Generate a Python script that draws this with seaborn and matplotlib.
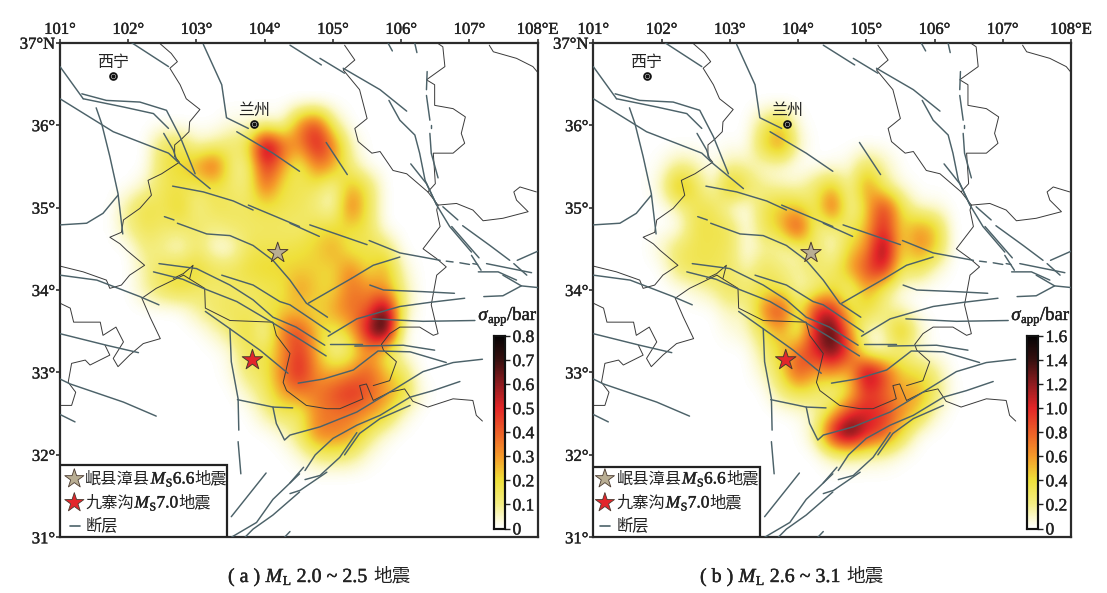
import numpy as np
import matplotlib
matplotlib.use("Agg")
import matplotlib.pyplot as plt
import matplotlib.patheffects as pe
import seaborn as sns
from matplotlib.colors import LinearSegmentedColormap
from matplotlib.patches import Rectangle
from matplotlib.transforms import IdentityTransform

# apparent stress grid
grid_lons = [102, 102.25, 102.5, 102.75, 103, 103.25, 103.5, 103.75, 104, 104.25, 104.5, 104.75, 105, 105.25, 105.5, 105.75, 106, 106.25]
grid_lats = [36.25, 36, 35.75, 35.5, 35.25, 35, 34.75, 34.5, 34.25, 34, 33.75, 33.5, 33.25, 33, 32.75, 32.5, 32.25, 32, 31.75]

stress_a = [
    [0, 0, 0, 0, 0, 0, 0, 0, 0, 0, 0, 0, 0, 0, 0, 0, 0, 0],
    [0, 0, 0, 0, 0, 0, .03, .03, .05, .02, .35, .5, .1, 0, 0, 0, 0, 0],
    [0, 0, .16, .18, .05, .08, .14, .17, .74, .4, .32, .56, .36, .05, 0, 0, 0, 0],
    [0, 0, .17, .22, .3, .47, .1, .08, .52, .3, .1, .38, .28, .1, 0, 0, 0, 0],
    [0, .05, .17, .17, .14, .17, .14, .1, .42, .17, .17, .15, .05, .28, .17, 0, 0, 0],
    [.1, .2, .15, .24, .08, .17, .15, .15, .18, .17, .16, .1, .02, .42, .16, 0, 0, 0],
    [.1, .17, .14, .14, .15, .1, .14, .14, .14, .14, .12, .19, .2, .2, .17, 0, 0, 0],
    [0, .12, .08, .01, .14, .01, .01, .16, .17, .17, .19, .22, .3, .14, .18, .16, 0, 0],
    [0, .08, .17, .2, .22, .17, .16, .2, .22, .22, .22, .22, .2, .36, .17, .3, .05, 0],
    [0, .08, .16, .2, .14, .12, .14, .14, .16, .17, .33, .22, .2, .38, .32, .3, .1, 0],
    [0, 0, 0, 0, .08, .15, .16, .14, .18, .22, .22, .2, .3, .38, .38, .75, .1, 0],
    [0, 0, 0, 0, 0, .05, .13, .22, .01, .38, .46, .22, .15, .24, .6, .85, .02, 0],
    [0, 0, 0, 0, 0, 0, .03, .18, .16, .3, .5, .27, .04, .12, .32, .15, .02, 0],
    [0, 0, 0, 0, 0, 0, .02, .14, .16, .36, .55, .3, .26, .32, .42, .24, .16, 0],
    [0, 0, 0, 0, 0, 0, 0, .05, .14, .3, .36, .35, .44, .52, .42, .32, .24, .03],
    [0, 0, 0, 0, 0, 0, 0, 0, .08, .16, .12, .34, .36, .36, .32, .24, .05, 0],
    [0, 0, 0, 0, 0, 0, 0, 0, 0, .03, .14, .36, .36, .32, .14, .03, 0, 0],
    [0, 0, 0, 0, 0, 0, 0, 0, 0, 0, .03, .12, .14, .12, .03, 0, 0, 0],
    [0, 0, 0, 0, 0, 0, 0, 0, 0, 0, 0, 0, 0, 0, 0, 0, 0, 0],
]

stress_b = [
    [0, 0, 0, 0, 0, 0, 0, 0, 0, 0, 0, 0, 0, 0, 0, 0, 0, 0],
    [0, 0, 0, 0, 0, 0, .28, .5, .03, 0, 0, 0, 0, 0, 0, 0, 0, 0],
    [0, 0, 0, 0, .02, 0, .45, .72, .1, 0, 0, 0, 0, 0, 0, 0, 0, 0],
    [.03, .2, .14, 0, .18, .14, .06, .05, 0, 0, .02, .05, .34, .14, 0, 0, 0, 0],
    [.1, .65, .34, .02, .62, .34, .18, .12, .1, .28, .5, .1, .72, .22, .05, 0, 0, 0],
    [0, .14, .34, .34, .04, .01, .34, .5, .45, .22, 1.0, .04, .44, 1.05, .38, .05, .05, 0],
    [0, 0, .36, .36, .34, .01, .34, .5, 1.08, .17, .2, .27, .5, 1.08, .38, .65, .5, 0],
    [.1, .3, .34, .34, .3, .01, .17, .1, .15, .34, .01, .45, .6, 1.42, .34, .7, .5, 0],
    [0, .28, .34, .34, .28, .1, .34, .22, .15, .3, .25, .6, .9, 1.15, .28, .34, .08, 0],
    [0, 0, .08, .17, .34, .28, .34, .34, .1, .17, .4, .1, .62, .22, .02, 0, 0, 0],
    [0, 0, 0, 0, .14, .1, .72, 1.05, .2, 1.05, 1.1, .34, .4, .22, .1, 0, 0, 0],
    [0, 0, 0, 0, .05, .1, .34, .6, .1, 1.1, 1.5, .6, .06, .1, .65, .12, 0, 0],
    [0, 0, 0, 0, 0, 0, .22, .45, .78, 1.05, 1.42, .9, .08, .04, .2, .05, 0, 0],
    [0, 0, 0, 0, 0, 0, .1, .38, .95, .55, .65, .44, 1.42, .95, .44, .38, .22, 0],
    [0, 0, 0, 0, 0, 0, 0, .22, .34, .28, .1, .38, .95, .78, .55, .62, .28, .02],
    [0, 0, 0, 0, 0, 0, 0, 0, .03, .1, .45, 1.0, 1.05, .95, .68, .45, .08, 0],
    [0, 0, 0, 0, 0, 0, 0, 0, 0, .15, 1.2, 1.58, 1.05, .9, .4, .03, 0, 0],
    [0, 0, 0, 0, 0, 0, 0, 0, 0, 0, .14, .17, .14, .12, .03, 0, 0, 0],
    [0, 0, 0, 0, 0, 0, 0, 0, 0, 0, 0, 0, 0, 0, 0, 0, 0, 0],
]

# faults, lon / lat
faults = [
    [(102.05, 37), (102.59, 36.71)],
    [(103.10, 36.98), (103.37, 36.49), (103.44, 36.09), (103.76, 35.96)],
    [(104.37, 36.97), (104.83, 36.73)],
    [(104.81, 36.81), (105.17, 36.63)],
    [(105.15, 36.69), (105.69, 36.43), (106.08, 36.17)],
    [(105.81, 36.99), (105.87, 36.90)],
    [(106.20, 36.99), (106.23, 36.88)],
    [(105.82, 36.30), (105.98, 36.06), (106.20, 35.88), (106.27, 35.66), (106.35, 35.33), (106.52, 35.03), (106.71, 34.77), (107.03, 34.46)],
    [(106.38, 36.65), (106.37, 36.43)],
    [(106.37, 36.36), (106.42, 36.06)],
    [(106.43, 36.00), (106.43, 35.96)],
    [(106.42, 35.90), (106.44, 35.66), (106.54, 35.36)],
    [(106.14, 35.53), (106.37, 35.29), (106.52, 35.03)],
    [(106.61, 35.01), (106.83, 34.85)],
    [(106.74, 34.77), (107.14, 34.39)],
    [(106.90, 34.78), (107.30, 34.54), (107.59, 34.36)],
    [(107.03, 34.42), (107.17, 34.24)],
    [(107.13, 34.22), (107.42, 34.22), (107.69, 34.12)],
    [(107.25, 34.32), (107.49, 34.28), (107.91, 34.21)],
    [(107.70, 34.36), (108, 34.47)],
    [(107.65, 34.32), (107.84, 34.18)],
    [(107.49, 34.18), (107.76, 34.05), (108, 34.03)],
    [(107.76, 34.05), (107.49, 33.93), (107.21, 33.92)],
    [(104.66, 34.79), (105.50, 34.55)],
    [(105.53, 34.60), (105.98, 34.45), (106.57, 34.36)],
    [(106.66, 34.35), (106.76, 34.34)],
    [(106.86, 34.33), (107.0, 34.31)],
    [(107.05, 34.32), (107.12, 34.31)],
    [(105.27, 34.14), (105.59, 34.30), (105.98, 34.40)],
    [(103.59, 35.92), (104.12, 35.66), (104.51, 35.44)],
    [(104.90, 35.79), (105.21, 35.40)],
    [(104.37, 34.81), (104.80, 34.65)],
    [(101, 36.71), (101.34, 36.32)],
    [(101.32, 36.38), (101.68, 36.30), (102.17, 36.28), (102.56, 36.18), (102.76, 35.86), (102.98, 35.41)],
    [(101.34, 36.32), (101.93, 36.22), (102.37, 36.14), (102.59, 35.96)],
    [(101, 36.32), (101.78, 35.92), (102.59, 35.66), (102.76, 35.53), (103.2, 35.23)],
    [(101.53, 36.21), (101.61, 36.02), (101.73, 35.62), (101.85, 35.17), (101.92, 34.68)],
    [(101, 34.79), (101.39, 34.81), (101.63, 34.93), (101.85, 35.15)],
    [(102.52, 35.90), (102.66, 35.70), (102.71, 35.57)],
    [(102.65, 35.26), (103.10, 35.19), (103.54, 35.08), (103.83, 34.97)],
    [(103.76, 35.03), (104.51, 34.77)],
    [(102.53, 34.89), (102.67, 34.85)],
    [(102.72, 34.81), (103.15, 34.68), (103.49, 34.66), (103.83, 34.54), (104.12, 34.36), (104.37, 34.12), (104.61, 33.84), (104.92, 33.67)],
    [(104.64, 33.84), (105.27, 34.14)],
    [(102.45, 34.32), (103.0, 34.26), (103.49, 34.06), (103.83, 33.88), (104.12, 33.67), (104.46, 33.55), (104.88, 33.33)],
    [(102.37, 34.22), (102.80, 34.13), (103.10, 34.02), (103.59, 33.86), (104.02, 33.65), (104.46, 33.43), (104.90, 33.20)],
    [(103.37, 34.18), (103.83, 34.06), (104.22, 33.86), (104.37, 33.82), (104.96, 33.49)],
    [(103.13, 33.74), (103.49, 33.53), (103.93, 33.27), (104.34, 32.99)],
    [(103.49, 33.53), (103.51, 33.13), (103.61, 32.68), (103.62, 32.30)],
    [(103.61, 32.16), (103.65, 31.77)],
    [(103.60, 32.67), (104.12, 32.58), (104.41, 32.57)],
    [(104.12, 32.58), (104.17, 32.38), (104.29, 32.18), (104.37, 32.24), (104.81, 32.34), (105.35, 32.52), (105.83, 32.76), (106.32, 33.01), (106.76, 33.12), (107.19, 33.16)],
    [(104.49, 32.87), (104.86, 32.92), (105.30, 33.03), (105.66, 33.26), (106.13, 33.25), (106.66, 33.12)],
    [(104.93, 33.44), (105.35, 33.65), (105.98, 33.80), (106.42, 33.85), (106.93, 33.90)],
    [(105.54, 34.06), (105.74, 34.0), (106.32, 33.98), (106.78, 33.96)],
    [(105.58, 33.65), (106.32, 33.62), (107.08, 33.63)],
    [(104.96, 33.34), (105.43, 33.34)],
    [(105.32, 33.32), (106.03, 33.33), (106.49, 33.27)],
    [(104.59, 31.81), (104.74, 32.0), (105.0, 32.20), (105.35, 32.36), (105.69, 32.48), (106.13, 32.70), (106.47, 32.78), (106.86, 32.89)],
    [(105.17, 32.0), (105.39, 32.26), (105.69, 32.44), (106.13, 32.60)],
    [(104.59, 31.70), (104.81, 31.75), (105.10, 31.97), (105.35, 32.27)],
    [(104.37, 31.53), (104.52, 31.57), (104.91, 31.79)],
    [(104.37, 31.66), (104.57, 31.85)],
    [(103.51, 31.25), (104.02, 31.78)],
    [(103.51, 31.0), (103.88, 31.18), (104.12, 31.46), (104.51, 31.77)],
    [(103.71, 31.0), (103.83, 31.10), (104.12, 31.27), (104.51, 31.55)],
    [(104.29, 31.0), (104.37, 31.07)],
    [(101, 34.18), (101.54, 34.12), (102.17, 33.92), (102.45, 33.82)],
    [(101, 33.47), (101.68, 33.33), (102.15, 33.24)],
    [(101, 32.92), (101.15, 32.86), (101.93, 32.64), (102.41, 32.47)],
    [(101, 32.49), (101.22, 32.40)],
]

# province boundaries
borders = [
    [(102.45, 37), (102.63, 36.87), (102.72, 36.77), (102.61, 36.69), (102.76, 36.49), (102.85, 36.32), (103.05, 36.19), (102.90, 36.04), (102.89, 35.92), (102.78, 35.83), (102.68, 35.76), (102.68, 35.62), (102.75, 35.55), (102.49, 35.41), (102.29, 35.33), (102.34, 35.15), (102.17, 34.99), (101.93, 34.85), (101.90, 34.70), (101.73, 34.64), (101.88, 34.56), (101.98, 34.48), (102.24, 34.30), (102.02, 34.18), (101.90, 34.06), (101.73, 34.02), (101.68, 34.12), (101.34, 34.22), (101, 34.29)],
    [(102.81, 34.18), (102.41, 34.02), (102.20, 33.90), (102.32, 33.67), (102.47, 33.41), (102.22, 33.35), (102.02, 33.21), (101.85, 33.07), (101.78, 33.17), (101.93, 33.37), (101.82, 33.55), (101.63, 33.45), (101.59, 33.61), (101.20, 33.61), (101.15, 33.78), (101, 33.84)],
    [(101.66, 33.33), (101.73, 33.21), (101.44, 33.09), (101.37, 33.15), (101.17, 33.11), (101.12, 32.88), (101.23, 32.76), (101.17, 32.60), (101, 32.60)],
    [(102.66, 34.14), (102.81, 34.2), (102.95, 34.30), (102.9, 34.14)],
    [(102.81, 34.18), (103.12, 34.02), (103.13, 33.78), (103.49, 33.63), (104.12, 33.61), (104.17, 33.45), (104.37, 33.23), (104.27, 32.88), (104.32, 32.78), (104.61, 32.60), (104.91, 32.56), (105.10, 32.56), (105.44, 32.68), (105.39, 32.84), (105.49, 32.86), (105.59, 32.66), (105.83, 32.76), (106.05, 32.80), (106.17, 32.65), (106.39, 32.58), (106.76, 32.68), (107.05, 32.66), (107.10, 32.48), (107.19, 32.41)],
    [(105.59, 32.84), (105.83, 32.90), (105.93, 33.13), (105.74, 33.27), (105.71, 33.34), (105.83, 33.47), (105.98, 33.55), (106.27, 33.55), (106.47, 33.45), (106.54, 33.47), (106.44, 33.82), (106.52, 34.18), (106.66, 34.28), (106.52, 34.38), (106.32, 34.50), (106.57, 34.77), (106.52, 34.97), (106.54, 35.03)],
    [(106.54, 35.03), (106.81, 35.05), (107.05, 34.97), (107.20, 34.84), (107.49, 34.87), (107.86, 34.95), (107.69, 35.09), (107.65, 35.19), (107.74, 35.25), (107.98, 35.19)],
    [(106.54, 35.03), (106.39, 35.19), (106.08, 35.41), (105.88, 35.45), (105.69, 35.68), (105.57, 35.66), (105.37, 35.80), (105.32, 35.96), (105.50, 36.08), (105.39, 36.43), (105.25, 36.57), (105.15, 36.67), (105.32, 36.79), (105.17, 36.97)],
    [(106.39, 35.19), (106.50, 35.29), (106.47, 35.66), (106.76, 35.66), (106.93, 35.78), (106.88, 35.90), (106.94, 36.10), (106.76, 36.20), (106.49, 36.24), (106.49, 36.49), (106.37, 36.55), (106.64, 36.71), (106.61, 36.95), (106.54, 36.99)],
    [(107.29, 36.97), (107.35, 36.89), (107.69, 36.81), (107.93, 36.71), (108, 36.64)],
]

city_names = ["西宁", "兰州"]
city_lons = [101.78, 103.84]
city_lats = [36.59, 36.01]
quake_lons = [104.19, 103.82]
quake_lats = [34.45, 33.15]
quake_colors = ["#b9ae93", "#e3262b"]

lon_ticks = [101, 102, 103, 104, 105, 106, 107, 108]
lat_ticks = [31, 32, 33, 34, 35, 36, 37]
ticks_a = [0, 0.1, 0.2, 0.3, 0.4, 0.5, 0.6, 0.7, 0.8]
ticks_b = [0, 0.2, 0.4, 0.6, 0.8, 1.0, 1.2, 1.4, 1.6]

sns.set_theme(style="white")
plt.rcParams["font.family"] = ["Liberation Serif", "Noto Sans CJK SC"]

W, H = 1107, 593
INK = "#222222"
fig = plt.figure(figsize=(W / 100, H / 100), dpi=100)

cmap = LinearSegmentedColormap.from_list("stress", [
    (0, "#ffffff"), (0.06, "#fbf8c8"), (0.125, "#f4ee84"), (0.25, "#efe03a"),
    (0.375, "#f59a2a"), (0.5, "#ec5f28"), (0.625, "#e32628"), (0.75, "#8f1c20"),
    (0.875, "#38100f"), (1, "#050304"),
])

STYLES = {
    "cn": dict(family=["Noto Sans CJK SC"], size=11.7),
    "rm": dict(family=["Liberation Serif"], size=12.5),
    "it": dict(family=["Liberation Serif"], size=12.5, style="italic"),
    "sub": dict(family=["Liberation Serif"], size=8.5),
}
THICK = [pe.withStroke(linewidth=0.3, foreground=INK)]


def chain(px, py, parts, scale=1.0):
    # lays text pieces one after the other, pixel origin at lower left
    rend = fig.canvas.get_renderer()
    for s, kind in parts:
        st = dict(STYLES[kind])
        st["size"] = st["size"] * scale
        t = fig.text(px, py - (3 if kind == "sub" else 0), s, transform=IdentityTransform(),
                     va="baseline", ha="left", color=INK, **st)
        if kind != "cn":
            t.set_path_effects(THICK)
        px = t.get_window_extent(rend).x1 + 0.5


def px_axes(x0, x1, y0, y1):
    return [x0 / W, 1 - y1 / H, (x1 - x0) / W, (y1 - y0) / H]


def draw_panel(x0, x1, values, vmax, ticks, cbar_x, legend, caption_x, caption):
    y0, y1 = 42.7, 537.3
    ax_heat = fig.add_axes(px_axes(x0, x1, y0, y1))
    cax = fig.add_axes(px_axes(cbar_x, cbar_x + 10.5, 336, 528.5))
    data = np.pad(np.array(values, dtype=float), 1)
    sns.heatmap(data, ax=ax_heat, cbar_ax=cax, cmap=cmap, vmin=0, vmax=vmax,
                xticklabels=False, yticklabels=False, cbar_kws={"ticks": ticks})
    # same cells, shown smoothed like the blurred original
    ax_heat.collections[0].set_visible(False)
    ax_heat.imshow(data, cmap=cmap, vmin=0, vmax=vmax, interpolation="bicubic", aspect="auto")
    dlon = grid_lons[1] - grid_lons[0]
    dlat = grid_lats[0] - grid_lats[1]
    # grid index of map edges, one pad cell outside the first node
    ax_heat.set_xlim((101 - grid_lons[0]) / dlon + 1, (108 - grid_lons[0]) / dlon + 1)
    ax_heat.set_ylim((grid_lats[0] - 31) / dlat + 1, (grid_lats[0] - 37) / dlat + 1)
    ax_heat.axis("off")

    cax.tick_params(length=3.6, width=1, color=INK, pad=2, labelsize=12.5, labelcolor=INK, right=True)
    cax.set_yticklabels(["0" if v == 0 else f"{v:.1f}" for v in ticks])
    for lab in cax.get_yticklabels():
        lab.set_path_effects(THICK)
    for sp in cax.spines.values():
        sp.set_visible(True)
        sp.set_linewidth(1.5)
        sp.set_color("#111111")

    ax = fig.add_axes(px_axes(x0, x1, y0, y1))
    ax.patch.set_visible(False)
    ax.set_xlim(101, 108)
    ax.set_ylim(31, 37)
    for line in borders:
        ax.plot(*zip(*line), color="#3a3a3a", lw=0.7, zorder=2)
    for line in faults:
        ax.plot(*zip(*line), color="#4c6269", lw=1.05, zorder=3)

    ax.scatter(city_lons, city_lats, s=24, facecolor="white", edgecolor="#111111", linewidth=1.3, zorder=4)
    ax.scatter(city_lons, city_lats, s=4, color="#111111", zorder=5)
    for name, lon, lat in zip(city_names, city_lons, city_lats):
        ax.text(lon, lat + 0.17, name, ha="center", va="center", fontsize=11.5,
                family=["Noto Sans CJK SC"], color=INK, zorder=5)
    ax.scatter(quake_lons, quake_lats, marker="*", s=240, c=quake_colors, edgecolor="#4a3a30", linewidth=0.7, zorder=6)

    ax.set_xticks(lon_ticks)
    ax.set_yticks(lat_ticks)
    ax.set_xticklabels([f"{v}°" if v < 108 else "108°E" for v in lon_ticks], fontsize=12, color=INK)
    ax.set_yticklabels([f"{v}°" if v < 37 else "37°N" for v in lat_ticks], fontsize=12, color=INK)
    ax.xaxis.tick_top()
    ax.tick_params(length=3.2, width=1.1, color=INK, pad=0.3, top=True, left=True, bottom=False)
    for lab in ax.get_xticklabels() + ax.get_yticklabels():
        lab.set_path_effects(THICK)
    for sp in ax.spines.values():
        sp.set_visible(True)
        sp.set_linewidth(1.6)
        sp.set_color("#2b2b2b")

    # legend box
    box_w, box_h, star_lon, text_lon = legend
    ax.add_patch(Rectangle((101, 31), box_w, box_h, facecolor="white", edgecolor=INK, lw=1.6, zorder=7))
    ax.scatter([star_lon, star_lon], [31.71, 31.42], marker="*", s=210, c=quake_colors, edgecolor="#4a3a30", linewidth=0.6, zorder=8)
    ax.plot([star_lon - 0.07, star_lon + 0.08], [31.14, 31.14], color="#4c6269", lw=1.2, zorder=8)
    tx = x0 + (text_lon - 101) * 68.25
    chain(tx, H - 483.5, [("岷县漳县", "cn"), ("M", "it"), ("S", "sub"), ("6.6", "rm"), ("地震", "cn")])
    chain(tx, H - 507.5, [("九寨沟", "cn"), ("M", "it"), ("S", "sub"), ("7.0", "rm"), ("地震", "cn")])
    chain(tx, H - 530, [("断层", "cn")])

    # colour bar title and caption
    chain(cbar_x - 16, H - 320, [("σ", "it"), ("app", "sub"), ("/bar", "rm")], 1.08)
    chain(caption_x, H - 582, caption, 1.15)


draw_panel(60, 537.7, stress_a, 0.8, ticks_a, 494.3, (2.45, 0.88, 101.21, 101.37), 228, [
    ("( a ) ", "rm"), ("M", "it"), ("L", "sub"), (" 2.0 ~ 2.5 ", "rm"), ("地震", "cn")])
draw_panel(593.3, 1071, stress_b, 1.6, ticks_b, 1027.3, (2.45, 0.85, 101.17, 101.34), 700, [
    ("( b ) ", "rm"), ("M", "it"), ("L", "sub"), (" 2.6 ~ 3.1 ", "rm"), ("地震", "cn")])

fig.savefig("out.png", dpi=100)
